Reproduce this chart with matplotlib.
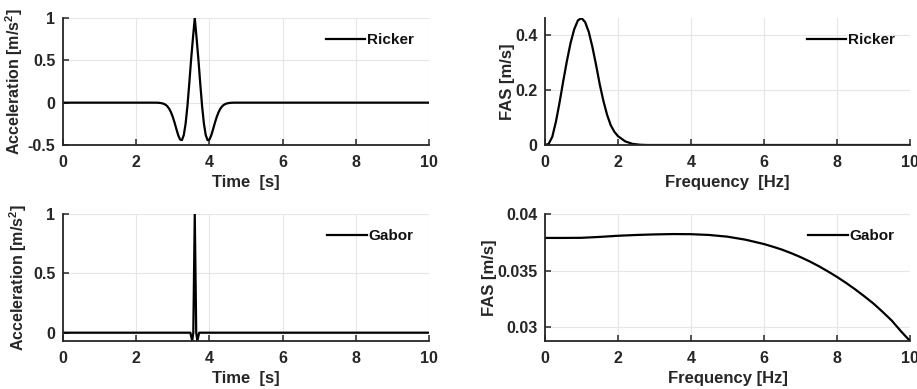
import matplotlib
matplotlib.use("Agg")
import matplotlib.pyplot as plt

plt.rcParams['font.family'] = ['Liberation Sans', 'DejaVu Sans']
plt.rcParams['font.weight'] = 'bold'
plt.rcParams['axes.labelweight'] = 'bold'
plt.rcParams['mathtext.fontset'] = 'custom'
plt.rcParams['mathtext.bf'] = 'Liberation Sans:bold'
plt.rcParams['mathtext.rm'] = 'Liberation Sans:bold'

# ---------------- data ----------------
ricker_t = [0.0, 2.5, 2.6, 2.65, 2.7, 2.75, 2.8, 2.85, 2.9, 2.95, 3.0, 3.05, 3.1,
            3.15, 3.2, 3.25, 3.3, 3.35, 3.4, 3.45, 3.5, 3.55, 3.6, 3.65, 3.7,
            3.75, 3.8, 3.85, 3.9, 3.95, 4.0, 4.05, 4.1, 4.15, 4.2, 4.25, 4.3,
            4.35, 4.4, 4.45, 4.5, 4.55, 4.6, 4.7, 10.0]
ricker_a = [0.0, 0.0, -0.001, -0.003, -0.007, -0.013, -0.024, -0.042, -0.071,
            -0.113, -0.169, -0.238, -0.315, -0.387, -0.436, -0.442, -0.383,
            -0.248, -0.039, 0.226, 0.508, 0.761, 1.0, 0.761, 0.508, 0.226,
            -0.039, -0.248, -0.383, -0.442, -0.436, -0.387, -0.315, -0.238,
            -0.169, -0.113, -0.071, -0.042, -0.024, -0.013, -0.007, -0.003,
            -0.001, 0.0, 0.0]

ricker_f = [0.0, 0.1, 0.2, 0.3, 0.4, 0.5, 0.6, 0.7, 0.8, 0.9, 1.0, 1.1, 1.2,
            1.3, 1.4, 1.5, 1.6, 1.7, 1.8, 1.9, 2.0, 2.2, 2.4, 2.6, 2.8, 3.0, 10.0]
ricker_fas = [0.0, 0.004, 0.030, 0.085, 0.155, 0.232, 0.305, 0.370, 0.420,
              0.452, 0.461, 0.446, 0.410, 0.355, 0.290, 0.220, 0.160, 0.110,
              0.072, 0.048, 0.032, 0.013, 0.004, 0.001, 0.0, 0.0, 0.0]

gabor_t = [0.0, 3.48, 3.53, 3.56, 3.6, 3.64, 3.67, 3.72, 10.0]
gabor_a = [0.0, 0.0, -0.07, 0.0, 1.0, 0.0, -0.07, 0.0, 0.0]

gabor_f = [0.0, 0.5, 1.0, 1.5, 2.0, 2.5, 3.0, 3.5, 4.0, 4.5, 5.0, 5.5, 6.0,
           6.25, 6.5, 6.75, 7.0, 7.25, 7.5, 7.75, 8.0, 8.25, 8.5, 8.75, 9.0,
           9.25, 9.5, 9.75, 10.0]
gabor_fas = [0.03789, 0.03789, 0.03790, 0.03798, 0.03808, 0.03815, 0.03820,
             0.03823, 0.03822, 0.03815, 0.03800, 0.03773, 0.03735, 0.03711,
             0.03685, 0.03654, 0.03620, 0.03582, 0.03540, 0.03494, 0.03445,
             0.03392, 0.03335, 0.03274, 0.03210, 0.03137, 0.03060, 0.02967,
             0.02880]

xticks = [0, 2, 4, 6, 8, 10]

# ---------------- figure ----------------
W, H = 917, 389
fig = plt.figure(figsize=(W / 100, H / 100), dpi=100)
AX_COL = '#262626'
LBL = 12
TICK = 11.5


def add_ax(left, top, right, bottom):
    return fig.add_axes([left / W, 1 - bottom / H, (right - left) / W, (bottom - top) / H])


def style(ax):
    for s in ['top', 'right']:
        ax.spines[s].set_visible(False)
    for s in ['left', 'bottom']:
        ax.spines[s].set_color(AX_COL)
        ax.spines[s].set_linewidth(1.3)
    ax.tick_params(direction='in', length=4, width=1.1, colors=AX_COL,
                   labelsize=TICK)
    ax.tick_params(axis='x', pad=7.5)
    ax.tick_params(axis='y', pad=5.5)
    ax.grid(True, color='#e6e6e6', linewidth=0.8)
    ax.set_axisbelow(True)
    for lbl in ax.get_xticklabels() + ax.get_yticklabels():
        lbl.set_fontweight('bold')


def legend(ax, label):
    leg = ax.legend([label], loc='upper right', frameon=False, handlelength=2.6,
                    handletextpad=0.1, borderaxespad=0.6,
                    prop={'weight': 'bold', 'size': 11})
    for t in leg.get_texts():
        t.set_color('#111111')


acc_label = r'Acceleration [m/s$^{\mathbf{2}}$]'

# top-left
ax1 = add_ax(63, 18, 429, 145)
ax1.plot(ricker_t, ricker_a, color='black', lw=1.6)
ax1.set_xlim(0, 10)
ax1.set_ylim(-0.5, 1)
ax1.set_xticks(xticks)
ax1.set_yticks([-0.5, 0, 0.5, 1])
ax1.set_yticklabels(['-0.5', '0', '0.5', '1'])
ax1.set_xlabel('Time  [s]', fontsize=LBL, color=AX_COL, labelpad=3.5)
ax1.set_ylabel(acc_label, fontsize=11.5, color=AX_COL)
ax1.yaxis.set_label_coords(-0.105, 0.5)
style(ax1)
legend(ax1, 'Ricker')

# top-right
ax2 = add_ax(545, 18, 910, 145)
ax2.plot(ricker_f, ricker_fas, color='black', lw=1.6)
ax2.set_xlim(0, 10)
ax2.set_ylim(0, 0.461)
ax2.set_xticks(xticks)
ax2.set_yticks([0, 0.2, 0.4])
ax2.set_yticklabels(['0', '0.2', '0.4'])
ax2.set_xlabel('Frequency  [Hz]', fontsize=LBL, color=AX_COL, labelpad=3.5)
ax2.set_ylabel('FAS [m/s]', fontsize=LBL, color=AX_COL, labelpad=0)
style(ax2)
legend(ax2, 'Ricker')

# bottom-left
ax3 = add_ax(63, 214, 429, 341)
ax3.plot(gabor_t, gabor_a, color='black', lw=1.6)
ax3.set_xlim(0, 10)
ax3.set_ylim(-0.07, 1)
ax3.set_xticks(xticks)
ax3.set_yticks([0, 0.5, 1])
ax3.set_yticklabels(['0', '0.5', '1'])
ax3.set_xlabel('Time  [s]', fontsize=LBL, color=AX_COL, labelpad=3.5)
ax3.set_ylabel(acc_label, fontsize=11.5, color=AX_COL)
ax3.yaxis.set_label_coords(-0.092, 0.5)
style(ax3)
legend(ax3, 'Gabor')

# bottom-right
ax4 = add_ax(545, 214, 910, 341)
ax4.plot(gabor_f, gabor_fas, color='black', lw=1.6)
ax4.set_xlim(0, 10)
ax4.set_ylim(0.0288, 0.04)
ax4.set_xticks(xticks)
ax4.set_yticks([0.03, 0.035, 0.04])
ax4.set_yticklabels(['0.03', '0.035', '0.04'])
ax4.set_xlabel('Frequency [Hz]', fontsize=LBL, color=AX_COL, labelpad=3.5)
ax4.set_ylabel('FAS [m/s]', fontsize=LBL, color=AX_COL, labelpad=0)
style(ax4)
legend(ax4, 'Gabor')

fig.savefig('out.png', dpi=100)
